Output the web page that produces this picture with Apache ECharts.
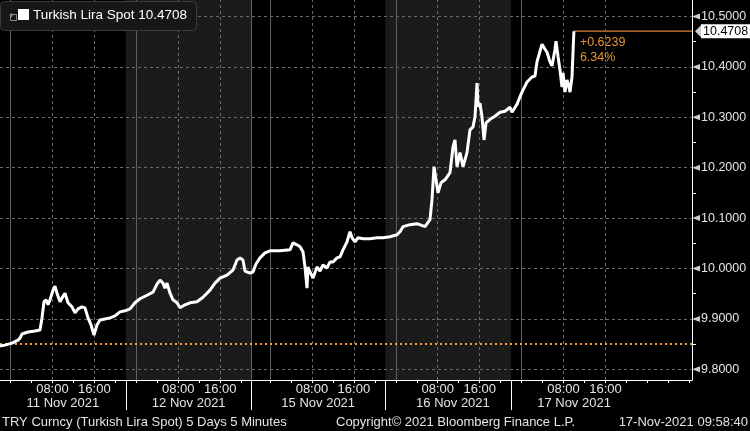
<!DOCTYPE html>
<html><head><meta charset="utf-8">
<script src="https://cdn.jsdelivr.net/npm/echarts@6/dist/echarts.min.js"></script>
<style>html,body{margin:0;padding:0;background:#000}#c{width:750px;height:431px}</style>
</head><body><div id="c"></div>
<script>
const seriesName = 'Turkish Lira Spot';
// x = trading hours from session start (10 Nov 22:00), weekend removed
const hours = [0,0.95,2.29,3.43,3.82,4.2,5.34,6.68,7.63,8.01,8.39,8.77,9.16,9.54,10.11,10.49,10.87,11.45,12.02,12.4,12.97,13.73,14.31,14.88,15.64,16.21,16.79,17.36,17.93,18.5,19.08,20.03,20.98,21.94,22.89,23.84,24.8,25.75,26.7,28.04,29.19,29.95,30.52,31.09,31.47,31.86,32.43,33.0,33.76,34.34,35.29,36.24,37.58,38.72,40.06,41.01,41.97,43.3,44.45,45.21,45.78,46.35,46.73,47.69,48.26,48.83,49.6,50.55,51.5,53.41,55.32,55.89,56.65,57.23,57.8,58.18,58.56,58.75,59.13,59.71,60.47,61.04,61.61,62.38,62.95,63.52,64.28,64.86,65.43,66.19,66.76,67.15,67.72,68.29,69.24,70.58,71.91,73.06,74.39,75.73,76.3,76.87,78.21,79.54,81.07,82.02,82.4,82.79,83.17,83.55,84.12,84.89,85.84,86.41,86.79,87.18,87.75,88.32,89.08,89.65,90.23,90.61,90.99,91.18,91.56,91.94,92.33,92.71,93.47,94.42,95.38,96.33,97.28,97.66,98.62,99.57,100.53,101.48,102.05,102.43,103.0,103.39,103.96,104.34,104.91,105.3,105.87,106.06,106.44,106.82,107.2,107.4,107.78,108.16,108.54,108.73,109.11,109.3,109.47];
const spot = [9.846,9.848,9.852,9.858,9.862,9.870,9.874,9.876,9.878,9.902,9.934,9.938,9.928,9.938,9.957,9.965,9.951,9.934,9.945,9.951,9.932,9.924,9.912,9.920,9.924,9.922,9.902,9.888,9.868,9.888,9.898,9.900,9.902,9.906,9.914,9.916,9.920,9.932,9.940,9.947,9.953,9.969,9.977,9.971,9.961,9.971,9.951,9.938,9.932,9.922,9.928,9.932,9.934,9.943,9.957,9.971,9.981,9.987,9.997,10.017,10.021,10.017,9.995,9.991,9.993,10.009,10.021,10.031,10.035,10.035,10.037,10.051,10.047,10.043,10.033,10.003,9.961,10.003,9.993,9.981,10.003,9.995,10.007,10.001,10.013,10.013,10.021,10.023,10.037,10.053,10.073,10.061,10.053,10.061,10.059,10.059,10.061,10.061,10.063,10.067,10.073,10.083,10.087,10.089,10.083,10.097,10.136,10.202,10.176,10.150,10.170,10.176,10.190,10.241,10.255,10.202,10.230,10.202,10.230,10.275,10.281,10.301,10.368,10.321,10.328,10.301,10.255,10.289,10.296,10.302,10.310,10.312,10.320,10.310,10.326,10.350,10.370,10.380,10.382,10.410,10.431,10.445,10.435,10.429,10.410,10.402,10.435,10.451,10.421,10.394,10.360,10.388,10.350,10.374,10.360,10.350,10.380,10.380,10.4708];
const lastValue = 10.4708;
const changeAbs = '+0.6239';
const changePct = '6.34%';
const baseValue = 9.8469;
const yLabels = [9.8,9.9,10.0,10.1,10.2,10.3,10.4,10.5];
const yMinor = [9.85,9.95,10.05,10.15,10.25,10.35,10.45];
const timePos = [10,18,34,42,59.5,67.5,83.5,91.5,107.5,115.5];
const timeText = ['08:00','16:00','08:00','16:00','08:00','16:00','08:00','16:00','08:00','16:00'];
const hourTickPos = [2,6,10,14,18,22,26,30,34,38,42,46,51.5,55.5,59.5,63.5,67.5,71.5,75.5,79.5,83.5,87.5,91.5,95.5,99.5,103.5,107.5,111.5,115.5,119.5,123.5,127.5,131.5];
const dayPos = [12,36,60.7,86.4,109.5];
const dayText = ['11 Nov 2021','12 Nov 2021','15 Nov 2021','16 Nov 2021','17 Nov 2021'];
const midnights = [2,26,48,51.5,75.5,99.5];
const sessionBreaks = [24,48,73.5,97.5];
const shaded = [[24,48],[73.5,97.5]];
const footLeft = 'TRY Curncy (Turkish Lira Spot) 5 Days 5 Minutes';
const footMid = 'Copyright\u00A9 2021 Bloomberg Finance L.P.';
const footRight = '17-Nov-2021 09:58:40';

const X_MIN = 0, X_MAX = 132, Y_MIN = 9.7788, Y_MAX = 10.5327;
const FONT = 'Liberation Sans';
const txt = '#e4e4e4';
const orange = '#e8922e';
const lastLineColor = '#d9823f';

const chart = echarts.init(document.getElementById('c'), null, {renderer:'canvas'});
const lastX = hours[hours.length-1];

chart.setOption({
  backgroundColor: '#000',
  animation: false,
  grid: {left: 0, right: 58, top: 0, bottom: 51, containLabel: false},
  xAxis: [{
    type: 'value', min: X_MIN, max: X_MAX, position: 'bottom',
    axisLine: {show: true, onZero: false, lineStyle: {color: '#fff', width: 1}},
    axisTick: {show: true, customValues: hourTickPos, length: 3, lineStyle: {color: '#fff'}},
    axisLabel: {show: true, customValues: timePos, margin: 3, color: txt, fontFamily: FONT, fontSize: 13,
      formatter: v => { const i = timePos.findIndex(p => Math.abs(p - v) < 1e-6); return i >= 0 ? timeText[i] : ''; }},
    splitLine: {show: false}
  },{
    type: 'value', min: X_MIN, max: X_MAX, position: 'bottom', gridIndex: 0,
    axisLine: {show: false},
    axisTick: {show: true, customValues: sessionBreaks, length: 30, lineStyle: {color: '#fff'}},
    axisLabel: {show: true, customValues: dayPos, margin: 17, color: txt, fontFamily: FONT, fontSize: 13,
      formatter: v => { const i = dayPos.findIndex(p => Math.abs(p - v) < 1e-6); return i >= 0 ? dayText[i] : ''; }},
    splitLine: {show: false}
  }],
  yAxis: {
    type: 'value', position: 'right', min: Y_MIN, max: Y_MAX,
    axisLine: {show: true, onZero: false, lineStyle: {color: '#fff'}},
    axisTick: {show: true, customValues: yMinor, length: 4, inside: false, lineStyle: {color: '#fff'}},
    axisLabel: {show: true, customValues: yLabels, margin: 9, color: txt, fontFamily: FONT, fontSize: 12.5,
      formatter: v => v.toFixed(4)},
    splitLine: {show: false}
  },
  series: [
    {
      type: 'line', name: 'bands', data: [[X_MIN, Y_MIN]], showSymbol: false, silent: true, z: 1,
      lineStyle: {opacity: 0},
      markArea: {silent: true, itemStyle: {color: '#1b1b1b'},
        data: shaded.map(s => [{xAxis: s[0]}, {xAxis: s[1]}])}
    },
    {
      type: 'line', name: 'grid', data: [[X_MIN, Y_MIN]], showSymbol: false, silent: true, z: 2,
      lineStyle: {opacity: 0},
      markLine: {silent: true, symbol: 'none', label: {show: false}, animation: false,
        data: [
          ...yLabels.map(v => ({yAxis: v, lineStyle: {color: '#6a6a6a', type: [3,3], width: 1}})),
          ...timePos.map(p => ({xAxis: p, lineStyle: {color: '#6a6a6a', type: [3,3], width: 1}})),
          ...midnights.map(p => ({xAxis: p, lineStyle: {color: '#606060', type: 'solid', width: 1}}))
        ]}
    },
    {
      type: 'line', name: 'base', data: [[X_MIN, Y_MIN]], showSymbol: false, silent: true, z: 3,
      lineStyle: {opacity: 0},
      markLine: {silent: true, symbol: 'none', label: {show: false},
        data: [{yAxis: baseValue, lineStyle: {color: '#f0a040', type: [2,3], width: 2}}]}
    },
    {
      type: 'line', name: 'lastLine', z: 4, silent: true, showSymbol: false,
      data: [[lastX, lastValue], [X_MAX, lastValue]],
      lineStyle: {color: lastLineColor, width: 1.2},
      markLine: {silent: true, symbol: 'none', lineStyle: {color: 'rgba(0,0,0,0)', width: 1},
        data: [
          [{coord: [lastX, lastValue],
            label: {show: true, position: 'insideStartBottom', distance: [6, 4], formatter: changeAbs + '\n' + changePct,
              color: orange, fontFamily: FONT, fontSize: 12.5, lineHeight: 15, align: 'left'}},
           {coord: [X_MAX, lastValue]}],
          [{coord: [lastX, lastValue],
            label: {show: true, position: 'end', distance: 9, formatter: lastValue.toFixed(4),
              color: '#000', backgroundColor: '#fff', padding: [1, 2, 0, 2], fontFamily: FONT, fontSize: 12.5}},
           {coord: [X_MAX, lastValue]}]
        ]}
    },
    {
      type: 'line', name: seriesName, z: 5, showSymbol: false,
      data: hours.map((h, i) => [h, spot[i]]),
      lineStyle: {color: '#fff', width: 3}
    },
    {
      type: 'scatter', name: 'tickArrows', z: 6, silent: true, clip: false,
      data: yLabels.map(v => [X_MAX, v]),
      symbol: 'triangle', symbolSize: [6, 8], symbolRotate: 90, symbolOffset: [4, 0],
      itemStyle: {color: '#fff'}
    },
    {
      type: 'scatter', name: 'lastArrow', z: 6, silent: true, clip: false,
      data: [[X_MAX, lastValue]],
      symbol: 'triangle', symbolSize: [14, 7], symbolRotate: 90, symbolOffset: [6.5, 0],
      itemStyle: {color: '#fff'}
    }
  ],
  graphic: [
    {type: 'rect', left: 0, top: 1, z: 10, shape: {width: 196, height: 29, r: 4}, style: {fill: '#171717', stroke: '#3c3c3c', lineWidth: 1}},
    {type: 'rect', left: 8, top: 12, z: 11, shape: {width: 6, height: 6}, style: {fill: 'none', stroke: '#8a8a8a', lineWidth: 1}},
    {type: 'line', z: 11, shape: {x1: 9.5, y1: 15, x2: 13.5, y2: 15}, style: {stroke: '#8a8a8a', lineWidth: 1}},
    {type: 'line', z: 11, shape: {x1: 11.5, y1: 13, x2: 11.5, y2: 17}, style: {stroke: '#8a8a8a', lineWidth: 1}},
    {type: 'rect', left: 18, top: 9, z: 11, shape: {width: 11, height: 11}, style: {fill: '#fff'}},
    {type: 'text', left: 33, top: 8, z: 11, style: {text: seriesName + ' ' + lastValue.toFixed(4), fill: '#fff', font: '13.5px "Liberation Sans"'}},
    {type: 'text', left: 2, top: 416, style: {text: footLeft, fill: txt, font: '13px "Liberation Sans"'}},
    {type: 'text', left: 336, top: 416, style: {text: footMid, fill: txt, font: '13px "Liberation Sans"'}},
    {type: 'text', right: 2, top: 416, style: {text: footRight, fill: txt, font: '13px "Liberation Sans"', textAlign: 'right'}}
  ]
});
</script>
</body></html>
